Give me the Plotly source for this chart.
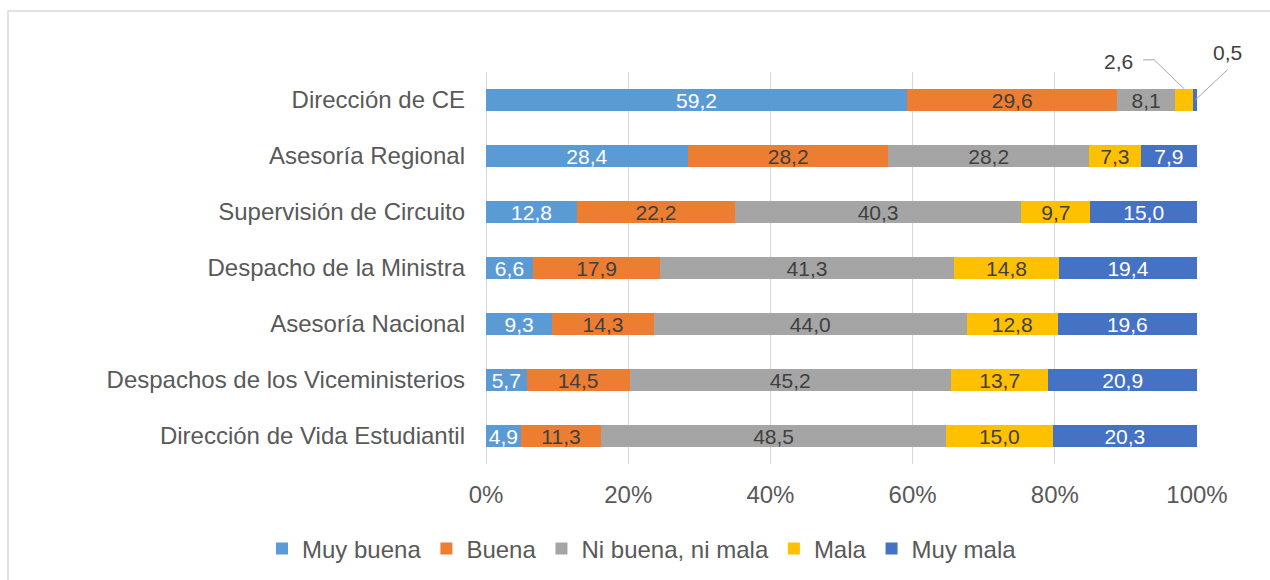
import plotly.graph_objects as go
import numpy as np

categories = ["Dirección de CE", "Asesoría Regional", "Supervisión de Circuito",
              "Despacho de la Ministra", "Asesoría Nacional",
              "Despachos de los Viceministerios", "Dirección de Vida Estudiantil"]
series_names = ["Muy buena", "Buena", "Ni buena, ni mala", "Mala", "Muy mala"]
muy_buena = [59.2, 28.4, 12.8, 6.6, 9.3, 5.7, 4.9]
buena = [29.6, 28.2, 22.2, 17.9, 14.3, 14.5, 11.3]
ni_buena = [8.1, 28.2, 40.3, 41.3, 44.0, 45.2, 48.5]
mala = [2.6, 7.3, 9.7, 14.8, 12.8, 13.7, 15.0]
muy_mala = [0.5, 7.9, 15.0, 19.4, 19.6, 20.9, 20.3]
x_ticks = [0, 20, 40, 60, 80, 100]

series = [muy_buena, buena, ni_buena, mala, muy_mala]
colors = ["#5B9BD5", "#ED7D31", "#A5A5A5", "#FFC000", "#4472C4"]
label_colors = ["#FFFFFF", "#404040", "#404040", "#404040", "#FFFFFF"]
FONT = "Liberation Sans, Arial, sans-serif"

W, H = 1270, 580
ML, MR, MT, MB = 486, 73, 72, 116
PW, PH = W - ML - MR, H - MT - MB
BAR_W = 0.40

def fmt(v):
    return f"{v:.1f}".replace(".", ",")

# Segments too small to hold their label are labelled outside
outside = {(0, 3), (0, 4)}

fig = go.Figure()
for si, (name, vals) in enumerate(zip(series_names, series)):
    texts = ["" if (ci, si) in outside else fmt(v) for ci, v in enumerate(vals)]
    fig.add_trace(go.Bar(
        y=categories, x=vals, name=name, orientation="h",
        marker=dict(color=colors[si], line=dict(width=0)),
        width=BAR_W,
        text=texts, textposition="inside", insidetextanchor="middle",
        textangle=0, constraintext="none",
        textfont=dict(color=label_colors[si], size=21, family=FONT),
        hoverinfo="x+y+name",
    ))

cum = np.cumsum(np.array(series), axis=0)
def to_paper(xd, yd):
    return xd / 100.0, (len(categories) - 0.5 - yd) / len(categories)

px_x = float(PW)
px_y = float(PH)
shapes = []
annotations = []

# Mala (2,6) on first row
ci = 0
mala_center = cum[2][ci] + mala[ci] / 2
hx, hy = to_paper(mala_center, ci - BAR_W / 2)
ex, ey = hx - 30 / px_x, hy + 29 / px_y
sx, sy = ex - 11 / px_x, ey
shapes.append(dict(type="path", xref="paper", yref="paper",
                   path=f"M {sx} {sy} L {ex} {ey} L {hx} {hy}",
                   line=dict(color="#A6A6A6", width=1)))
annotations.append(dict(xref="paper", yref="paper", x=sx - 8 / px_x, y=sy,
                        text=fmt(mala[ci]), showarrow=False, xanchor="right",
                        yanchor="middle", yshift=-2,
                        font=dict(size=21, color="#404040", family=FONT)))

# Muy mala (0,5) on first row
mm_center = cum[3][ci] + muy_mala[ci] / 2
hx2, hy2 = to_paper(mm_center, ci)
tx2, ty2 = hx2 + 32 / px_x, hy2 + 30 / px_y
shapes.append(dict(type="line", xref="paper", yref="paper",
                   x0=hx2, y0=hy2, x1=tx2, y1=ty2,
                   line=dict(color="#A6A6A6", width=1)))
annotations.append(dict(xref="paper", yref="paper", x=tx2, y=ty2 + 4 / px_y,
                        text=fmt(muy_mala[ci]), showarrow=False, xanchor="center",
                        yanchor="bottom",
                        font=dict(size=21, color="#404040", family=FONT)))

# chart border (top and left visible)
shapes.append(dict(type="rect", xref="paper", yref="paper",
                   x0=(8 - ML) / PW, x1=(W + 20 - ML) / PW,
                   y0=-(H + 20 - MT - PH) / PH, y1=(MT + PH - 11) / PH,
                   line=dict(color="#D9D9D9", width=1.5), layer="below"))

fig.update_layout(
    width=W, height=H,
    margin=dict(l=ML, r=MR, t=MT, b=MB, autoexpand=False),
    barmode="stack",
    paper_bgcolor="white", plot_bgcolor="white",
    font=dict(family=FONT, size=24, color="#595959"),
    uniformtext=dict(mode="show", minsize=21),
    xaxis=dict(range=[0, 100], tickvals=x_ticks,
               ticktext=[f"{t}%" for t in x_ticks],
               showgrid=True, gridcolor="#D9D9D9", gridwidth=1,
               zeroline=True, zerolinecolor="#D9D9D9", zerolinewidth=1,
               showline=False, ticks="", ticklabelstandoff=14,
               tickfont=dict(size=24, color="#595959"), fixedrange=True),
    yaxis=dict(type="category", categoryorder="array", categoryarray=categories,
               range=[len(categories) - 0.5, -0.5], showgrid=False,
               zeroline=False, showline=False, ticks="",
               ticklabelstandoff=20,
               tickfont=dict(size=24, color="#595959"), fixedrange=True),
    showlegend=True,
    legend=dict(orientation="h", xref="paper", yref="paper",
                x=(262 - ML) / PW, y=-(549 - MT - PH) / PH,
                xanchor="left", yanchor="middle",
                font=dict(size=24, color="#595959"), itemwidth=30,
                traceorder="normal", bgcolor="rgba(0,0,0,0)"),
    shapes=shapes, annotations=annotations,
)

fig.write_html("out.html", config={"displayModeBar": False},
               post_script="document.body.style.margin='0';document.body.style.overflow='hidden';")
